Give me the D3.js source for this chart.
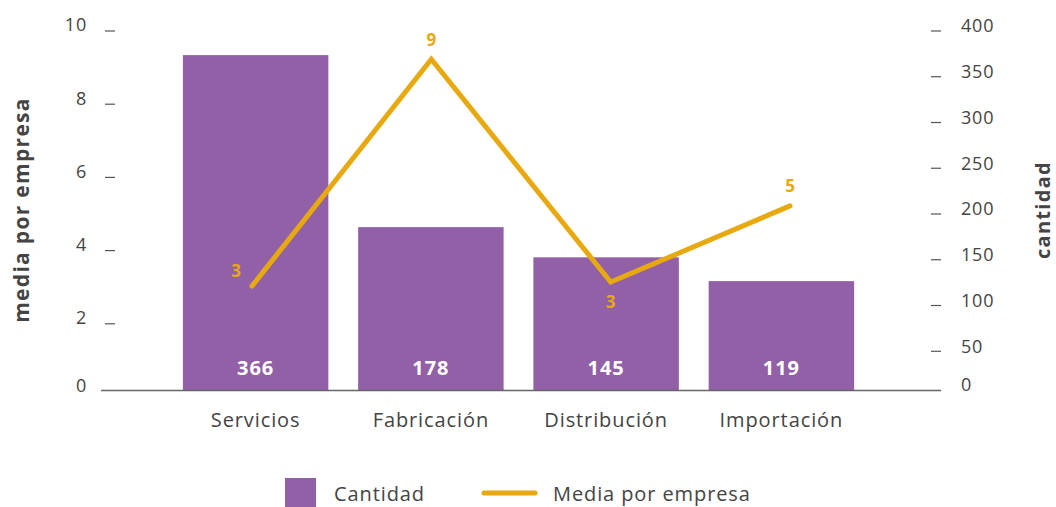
<!DOCTYPE html>
<html>
<head>
<meta charset="utf-8">
<script src="https://cdn.jsdelivr.net/npm/d3@7"></script>
<style>
  body { margin: 0; background: #fff; }
  svg { display: block; font-family: "Open Sans", sans-serif; }
</style>
</head>
<body>
<div id="chart"></div>
<script>
// chart data
var categories = ["Servicios", "Fabricación", "Distribución", "Importación"];
var cantidad = [366, 178, 145, 119];
var media = [2.84, 9.04, 2.95, 5.03];
var mediaLabels = ["3", "9", "3", "5"];
var leftTicks = [0, 2, 4, 6, 8, 10];
var rightTicks = [0, 50, 100, 150, 200, 250, 300, 350, 400];

var width = 1056, height = 507;
var purple = "#9260a7", orange = "#e8a90f", textColor = "#444";

var svg = d3.select("#chart").append("svg")
  .attr("width", width)
  .attr("height", height);

var x = d3.scaleBand().domain(categories).range([168, 869])
  .paddingInner(0.17).paddingOuter(0.085);
// line points sit a little off the bar centres in the original
var xLine = d3.scalePoint().domain(categories).range([252, 790]);
var yLeft = d3.scaleLinear().domain([0, 10]).range([390, 24]);
var yRight = d3.scaleLinear().domain([0, 400]).range([390, 24]);

// bars
svg.selectAll(".bar").data(cantidad).enter().append("rect")
  .attr("class", "bar")
  .attr("x", function (d, i) { return x(categories[i]); })
  .attr("y", function (d) { return yRight(d); })
  .attr("width", x.bandwidth())
  .attr("height", function (d) { return yRight(0) - yRight(d); })
  .style("fill", purple);

// bar value labels
svg.selectAll(".barlabel").data(cantidad).enter().append("text")
  .attr("x", function (d, i) { return x(categories[i]) + x.bandwidth() / 2; })
  .attr("y", 368)
  .attr("dy", "0.35em")
  .style("text-anchor", "middle")
  .style("fill", "#fff")
  .style("font-weight", "bold")
  .style("font-size", "20px")
  .style("letter-spacing", "1px")
  .text(function (d) { return d; });

// baseline
svg.append("line")
  .attr("x1", 101).attr("x2", 941)
  .attr("y1", 390.5).attr("y2", 390.5)
  .style("stroke", "#666").style("stroke-width", 1.5);

// left axis labels with dash ticks
var lg = svg.selectAll(".lt").data(leftTicks).enter().append("g");
lg.append("text")
  .attr("x", 87)
  .attr("y", function (d) { return d === 0 ? yLeft(d) - 4 : yLeft(d) + 1; })
  .attr("dy", "0.35em")
  .style("text-anchor", "end")
  .style("fill", textColor)
  .style("font-size", "18px")
  .style("letter-spacing", "0.8px")
  .text(function (d) { return d; });
lg.filter(function (d) { return d > 0; }).append("line")
  .attr("x1", 105).attr("x2", 115)
  .attr("y1", function (d) { return yLeft(d) + 7; })
  .attr("y2", function (d) { return yLeft(d) + 7; })
  .style("stroke", "#555").style("stroke-width", 1.2);

// right axis labels with dash ticks
var rg = svg.selectAll(".rt").data(rightTicks).enter().append("g");
rg.append("text")
  .attr("x", 961)
  .attr("y", function (d) { return d === 0 ? yRight(d) - 5 : yRight(d) + 2; })
  .attr("dy", "0.35em")
  .style("fill", textColor)
  .style("font-size", "18px")
  .style("letter-spacing", "0.8px")
  .text(function (d) { return d; });
rg.filter(function (d) { return d > 0; }).append("line")
  .attr("x1", 931).attr("x2", 941)
  .attr("y1", function (d) { return yRight(d) + 7; })
  .attr("y2", function (d) { return yRight(d) + 7; })
  .style("stroke", "#555").style("stroke-width", 1.2);

// category labels
svg.selectAll(".cat").data(categories).enter().append("text")
  .attr("x", function (d) { return x(d) + x.bandwidth() / 2; })
  .attr("y", 420)
  .attr("dy", "0.35em")
  .style("text-anchor", "middle")
  .style("fill", textColor)
  .style("font-size", "20px")
  .style("letter-spacing", "0.9px")
  .text(function (d) { return d; });

// axis titles
svg.append("text")
  .attr("transform", "translate(29,210) rotate(-90)")
  .style("text-anchor", "middle")
  .style("fill", textColor)
  .style("font-weight", "bold")
  .style("font-size", "21px")
  .style("letter-spacing", "1.3px")
  .text("media por empresa");
svg.append("text")
  .attr("transform", "translate(1050,210) rotate(-90)")
  .style("text-anchor", "middle")
  .style("fill", textColor)
  .style("font-weight", "bold")
  .style("font-size", "20px")
  .style("letter-spacing", "1.3px")
  .text("cantidad");

// line
var line = d3.line()
  .x(function (d, i) { return xLine(categories[i]); })
  .y(function (d) { return yLeft(d); });
svg.append("path")
  .datum(media)
  .attr("d", line)
  .style("fill", "none")
  .style("stroke", orange)
  .style("stroke-width", 5)
  .style("stroke-linecap", "round")
  .style("stroke-linejoin", "miter");

// line labels
var labelOffsets = [[-16, -15], [0, -19], [0, 20], [0, -20]];
svg.selectAll(".ml").data(media).enter().append("text")
  .attr("x", function (d, i) { return xLine(categories[i]) + labelOffsets[i][0]; })
  .attr("y", function (d, i) { return yLeft(d) + labelOffsets[i][1]; })
  .attr("dy", "0.35em")
  .style("text-anchor", "middle")
  .style("fill", orange)
  .style("font-weight", "bold")
  .style("font-size", "17px")
  .text(function (d, i) { return mediaLabels[i]; });

// legend
var legend = svg.append("g");
legend.append("rect")
  .attr("x", 285).attr("y", 478).attr("width", 31).attr("height", 29)
  .style("fill", purple);
legend.append("text")
  .attr("x", 334).attr("y", 494).attr("dy", "0.35em")
  .style("fill", textColor).style("font-size", "20px").style("letter-spacing", "0.9px")
  .text("Cantidad");
legend.append("line")
  .attr("x1", 484).attr("x2", 535).attr("y1", 493).attr("y2", 493)
  .style("stroke", orange).style("stroke-width", 5).style("stroke-linecap", "round");
legend.append("text")
  .attr("x", 553).attr("y", 494).attr("dy", "0.35em")
  .style("fill", textColor).style("font-size", "20px").style("letter-spacing", "0.9px")
  .text("Media por empresa");
</script>
</body>
</html>
